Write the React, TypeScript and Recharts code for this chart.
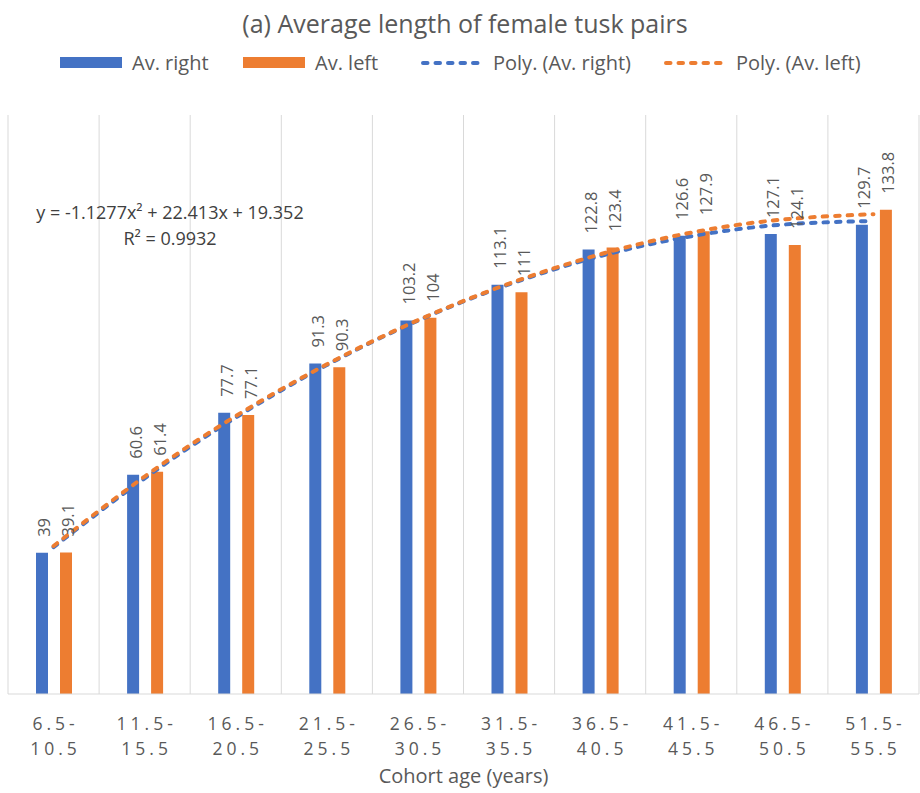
import { ComposedChart, Bar, Line, XAxis, YAxis, CartesianGrid, LabelList } from 'recharts';

const cohorts = [
  '6.5-10.5',
  '11.5-15.5',
  '16.5-20.5',
  '21.5-25.5',
  '26.5-30.5',
  '31.5-35.5',
  '36.5-40.5',
  '41.5-45.5',
  '46.5-50.5',
  '51.5-55.5',
];
const avRight = [39, 60.6, 77.7, 91.3, 103.2, 113.1, 122.8, 126.6, 127.1, 129.7];
const avLeft = [39.1, 61.4, 77.1, 90.3, 104, 111, 123.4, 127.9, 124.1, 133.8];
// trendline heights at each cohort
const polyRight = [40.6, 59.6, 76.4, 90.9, 103.2, 113.2, 121.0, 126.5, 129.7, 130.7];
const polyLeft = [40.9, 60.1, 76.8, 91.1, 103.3, 113.4, 121.5, 127.5, 131.1, 132.6];

const BLUE = '#4472C4';
const ORANGE = '#ED7D31';
const TEXT = '#595959';
const FONT = '"Open Sans", sans-serif';

const data = cohorts.map((c, i) => ({
  cohort: c,
  right: avRight[i],
  left: avLeft[i],
  polyRight: polyRight[i],
  polyLeft: polyLeft[i],
}));

function CohortTick(props: any) {
  const { x, y, payload } = props;
  const [from, to] = String(payload.value).split('-');
  return (
    <text x={x + 2} y={y} textAnchor="middle" fill={TEXT} fontSize={17.5} letterSpacing={4} fontFamily={FONT}>
      <tspan x={x + 2} dy={34}>{from}-</tspan>
      <tspan x={x + 2} dy={25}>{to}</tspan>
    </text>
  );
}

function ValueLabel(props: any) {
  const { x, y, width, value } = props;
  const cx = x + width / 2 + 2;
  const cy = y - 16;
  return (
    <text
      x={cx}
      y={cy}
      transform={`rotate(-90 ${cx} ${cy})`}
      textAnchor="start"
      dominantBaseline="central"
      fill={TEXT}
      fontSize={16.5}
      fontFamily={FONT}
    >
      {value}
    </text>
  );
}

function LegendSwatch({ color, dashed }: { color: string; dashed?: boolean }) {
  if (dashed) {
    return (
      <svg width={67} height={12} style={{ marginRight: 6 }}>
        <line x1={3} y1={6} x2={64} y2={6} stroke={color} strokeWidth={4} strokeDasharray="4.5 8" strokeLinecap="round" />
      </svg>
    );
  }
  return <span style={{ display: 'inline-block', width: 62, height: 11, background: color, marginRight: 10 }} />;
}

const legendItems = [
  { name: 'Av. right', color: BLUE, left: 60 },
  { name: 'Av. left', color: ORANGE, left: 243 },
  { name: 'Poly. (Av. right)', color: BLUE, left: 420, dashed: true },
  { name: 'Poly. (Av. left)', color: ORANGE, left: 663, dashed: true },
];

export default function App() {
  return (
    <div
      style={{
        position: 'absolute',
        left: 0,
        top: 0,
        width: 920,
        height: 793,
        background: '#fff',
        fontFamily: FONT,
        color: TEXT,
      }}
    >
      <div style={{ position: 'absolute', top: 6, left: 0, width: 930, textAlign: 'center', fontSize: 25 }}>
        (a) Average length of female tusk pairs
      </div>
      {legendItems.map((item) => (
        <div
          key={item.name}
          style={{
            position: 'absolute',
            top: 49,
            left: item.left,
            display: 'flex',
            alignItems: 'center',
            fontSize: 20,
            whiteSpace: 'nowrap',
          }}
        >
          <LegendSwatch color={item.color} dashed={item.dashed} />
          {item.name}
        </div>
      ))}

      <ComposedChart
        width={920}
        height={793}
        data={data}
        margin={{ top: 115, right: 1, bottom: 0, left: 8 }}
        barGap={12}
        style={{ position: 'absolute', left: 0, top: 0 }}
      >
        <CartesianGrid
          horizontal={false}
          stroke="#D9D9D9"
          verticalCoordinatesGenerator={({ offset }: any) =>
            cohorts.map((_, i) => offset.left + (offset.width * i) / cohorts.length).concat(offset.left + offset.width)
          }
        />
        <XAxis
          dataKey="cohort"
          interval={0}
          tickLine={false}
          tickSize={0}
          tick={<CohortTick />}
          stroke="#D9D9D9"
          height={99}
        />
        <YAxis hide domain={[0, 160]} />
        <Bar dataKey="right" fill={BLUE} barSize={12} isAnimationActive={false}>
          <LabelList dataKey="right" content={<ValueLabel />} />
        </Bar>
        <Bar dataKey="left" fill={ORANGE} barSize={12} isAnimationActive={false}>
          <LabelList dataKey="left" content={<ValueLabel />} />
        </Bar>
        <Line
          type="natural"
          dataKey="polyRight"
          stroke={BLUE}
          strokeWidth={4}
          strokeDasharray="4.5 8"
          strokeLinecap="round"
          dot={false}
          activeDot={false}
          isAnimationActive={false}
        />
        <Line
          type="natural"
          dataKey="polyLeft"
          stroke={ORANGE}
          strokeWidth={4}
          strokeDasharray="4.5 8"
          strokeLinecap="round"
          dot={false}
          activeDot={false}
          isAnimationActive={false}
        />
      </ComposedChart>

      <div style={{ position: 'absolute', top: 199, left: 20, width: 300, textAlign: 'center', fontSize: 18, color: '#404040', lineHeight: '26px' }}>
        y = -1.1277x² + 22.413x + 19.352
        <br />
        R² = 0.9932
      </div>
      <div style={{ position: 'absolute', top: 762, left: 0, width: 927, textAlign: 'center', fontSize: 20 }}>
        Cohort age (years)
      </div>
    </div>
  );
}
